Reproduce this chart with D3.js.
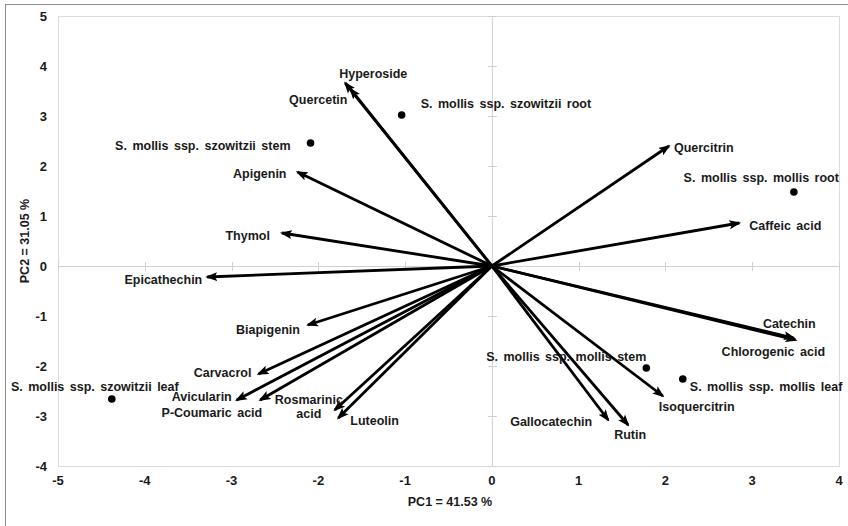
<!DOCTYPE html>
<html>
<head>
<meta charset="utf-8">
<script src="https://cdn.jsdelivr.net/npm/d3@7"></script>
<style>
  body { margin: 0; background: #fff; }
  svg text { font-family: "Liberation Sans", Arial, sans-serif; font-weight: bold; font-size: 12.5px; fill: #1a1a1a; }
  .lbl { word-spacing: 2px; }
</style>
</head>
<body>
<svg id="chart" width="848" height="526"></svg>
<script>
// PCA loadings (arrows)
var variables = ["Hyperoside", "Quercetin", "Apigenin", "Thymol", "Epicathechin", "Biapigenin",
  "Carvacrol", "Avicularin", "P-Coumaric acid", "Rosmarinic acid", "Luteolin",
  "Quercitrin", "Caffeic acid", "Catechin", "Chlorogenic acid", "Isoquercitrin", "Gallocatechin", "Rutin"];
var loadPC1 = [-1.69, -1.63, -2.24, -2.42, -3.28, -2.12, -2.69, -2.94, -2.67, -1.81, -1.77,
  2.04, 2.85, 3.48, 3.50, 1.97, 1.34, 1.57];
var loadPC2 = [3.66, 3.54, 1.88, 0.66, -0.22, -1.18, -2.16, -2.68, -2.68, -2.88, -3.04,
  2.40, 0.86, -1.44, -1.48, -2.60, -3.08, -3.18];

// PCA scores (points)
var samples = ["S. mollis ssp. szowitzii root", "S. mollis ssp. szowitzii stem", "S. mollis ssp. mollis root",
  "S. mollis ssp. mollis stem", "S. mollis ssp. mollis leaf", "S. mollis ssp. szowitzii leaf"];
var scorePC1 = [-1.04, -2.09, 3.48, 1.78, 2.20, -4.38];
var scorePC2 = [3.02, 2.46, 1.48, -2.04, -2.26, -2.66];

var xTicks = [-5, -4, -3, -2, -1, 0, 1, 2, 3, 4];
var yTicks = [-4, -3, -2, -1, 0, 1, 2, 3, 4, 5];

// label placement relative to the mark: [dx, dy, anchor]
var labelPos = {
  "Hyperoside": [-6, -10, "start"],
  "Quercetin": [-3, 10, "end"],
  "Apigenin": [-11, 1, "end"],
  "Thymol": [-12, 2, "end"],
  "Epicathechin": [-5, 2, "end"],
  "Biapigenin": [-8, 4, "end"],
  "Carvacrol": [-7, -2, "end"],
  "Avicularin": [-5, -4, "end"],
  "P-Coumaric acid": [2, 12, "end"],
  "Rosmarinic acid": [-26, -11, "middle"],
  "Luteolin": [12, 2, "start"],
  "Quercitrin": [5, 1, "start"],
  "Caffeic acid": [10, 2, "start"],
  "Catechin": [-31, -15, "start"],
  "Chlorogenic acid": [-74, 11, "start"],
  "Isoquercitrin": [-4, 10, "start"],
  "Gallocatechin": [-16, 1, "end"],
  "Rutin": [-14, 9, "start"],
  "S. mollis ssp. szowitzii root": [19, -12, "start"],
  "S. mollis ssp. szowitzii stem": [-20, 2, "end"],
  "S. mollis ssp. mollis root": [45, -15, "end"],
  "S. mollis ssp. mollis stem": [0, -12, "end"],
  "S. mollis ssp. mollis leaf": [7, 7, "start"],
  "S. mollis ssp. szowitzii leaf": [-17, -13, "middle"]
};

var svg = d3.select("#chart");

// outer chart border
svg.append("rect").attr("x", 5.5).attr("y", 4.5).attr("width", 860).attr("height", 540)
  .attr("fill", "none").attr("stroke", "#8c8c8c").attr("stroke-width", 1);

var plotLeft = 58, plotRight = 839, plotTop = 16, plotBottom = 466;
var xScale = d3.scaleLinear().domain([-5, 4]).range([plotLeft, plotRight]);
var yScale = d3.scaleLinear().domain([-4, 5]).range([plotBottom, plotTop]);

// plot area border
svg.append("rect").attr("x", plotLeft + 0.5).attr("y", plotTop + 0.5)
  .attr("width", plotRight - plotLeft).attr("height", plotBottom - plotTop)
  .attr("fill", "none").attr("stroke", "#dcdcdc");

// zero lines with cross ticks
var gray = "#d0d0d0";
svg.append("line").attr("x1", xScale(0) + 0.5).attr("x2", xScale(0) + 0.5)
  .attr("y1", plotTop).attr("y2", plotBottom).attr("stroke", gray);
svg.append("line").attr("x1", plotLeft).attr("x2", plotRight)
  .attr("y1", yScale(0) + 0.5).attr("y2", yScale(0) + 0.5).attr("stroke", gray);

svg.selectAll("line.ytick").data(yTicks).enter().append("line")
  .attr("class", "ytick")
  .attr("x1", xScale(0) - 4).attr("x2", xScale(0) + 5)
  .attr("y1", d => Math.round(yScale(d)) + 0.5).attr("y2", d => Math.round(yScale(d)) + 0.5)
  .attr("stroke", gray);
svg.selectAll("line.xtick").data(xTicks).enter().append("line")
  .attr("class", "xtick")
  .attr("y1", yScale(0) - 4).attr("y2", yScale(0) + 5)
  .attr("x1", d => Math.round(xScale(d)) + 0.5).attr("x2", d => Math.round(xScale(d)) + 0.5)
  .attr("stroke", gray);

// tick labels at the plot edges
svg.selectAll("text.xlab").data(xTicks).enter().append("text")
  .attr("class", "xlab")
  .attr("x", d => xScale(d)).attr("y", 485)
  .attr("text-anchor", "middle")
  .style("font-size", "13px")
  .text(d => d);
svg.selectAll("text.ylab").data(yTicks).enter().append("text")
  .attr("class", "ylab")
  .attr("x", 47).attr("y", d => yScale(d) + 4.5)
  .attr("text-anchor", "end")
  .style("font-size", "13px")
  .text(d => d);

// axis titles
svg.append("text").attr("x", 450).attr("y", 506).attr("text-anchor", "middle").text("PC1 = 41.53 %");
svg.append("text").attr("transform", "translate(29,241) rotate(-90)")
  .attr("text-anchor", "middle").text("PC2 = 31.05 %");

// arrow marker
svg.append("defs").append("marker")
  .attr("id", "head")
  .attr("markerUnits", "userSpaceOnUse")
  .attr("viewBox", "0 -5 12 10")
  .attr("refX", 10).attr("refY", 0)
  .attr("markerWidth", 12).attr("markerHeight", 10)
  .attr("orient", "auto")
  .append("path").attr("d", "M0,-4.5L12,0L0,4.5L2.5,0Z").attr("fill", "#000");

var loadings = variables.map((v, i) => ({ name: v, x: loadPC1[i], y: loadPC2[i] }));
var scores = samples.map((s, i) => ({ name: s, x: scorePC1[i], y: scorePC2[i] }));

svg.selectAll("line.arrow").data(loadings).enter().append("line")
  .attr("class", "arrow")
  .attr("x1", xScale(0)).attr("y1", yScale(0))
  .attr("x2", d => xScale(d.x)).attr("y2", d => yScale(d.y))
  .attr("stroke", "#000").attr("stroke-width", 2.8)
  .attr("marker-end", "url(#head)");

svg.selectAll("circle.score").data(scores).enter().append("circle")
  .attr("class", "score")
  .attr("cx", d => xScale(d.x)).attr("cy", d => yScale(d.y))
  .attr("r", 3.8).attr("fill", "#000");

// labels
function addLabels(data) {
  data.forEach(d => {
    var p = labelPos[d.name];
    var t = svg.append("text").attr("class", "lbl")
      .attr("x", xScale(d.x) + p[0]).attr("y", yScale(d.y) + p[1] + 4.5)
      .attr("text-anchor", p[2]);
    if (d.name == "Rosmarinic acid") {
      t.append("tspan").attr("x", xScale(d.x) + p[0]).text("Rosmarinic");
      t.append("tspan").attr("x", xScale(d.x) + p[0]).attr("dy", 14).text("acid");
    } else {
      t.text(d.name);
    }
  });
}
addLabels(loadings);
addLabels(scores);
</script>
</body>
</html>
